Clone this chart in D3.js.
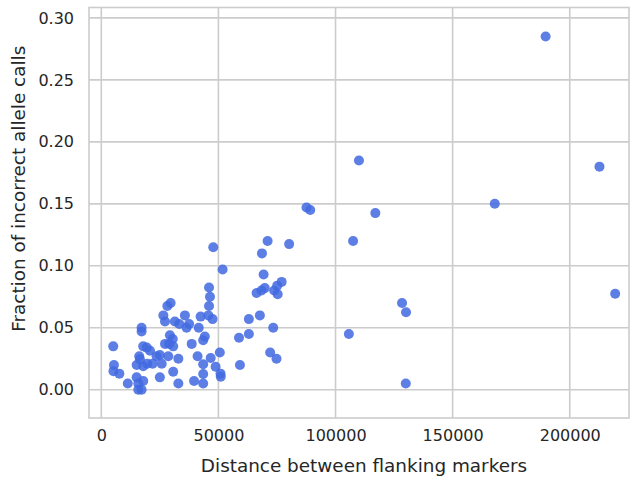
<!DOCTYPE html>
<html>
<head>
<meta charset="utf-8">
<script src="https://cdn.jsdelivr.net/npm/d3@7"></script>
<style>
  html, body { margin: 0; padding: 0; background: #fff; }
  svg text { font-family: "DejaVu Sans", sans-serif; fill: #262626; }
</style>
</head>
<body>
<svg id="chart" width="631" height="477"></svg>
<script>
// Distance between flanking markers (bp) for each locus
const distance = [
  5100, 5400, 5200, 7700, 11300, 15100, 15100, 15800, 15800, 17200,
  17900, 16200, 16500, 17200, 17200, 17900, 19400, 20800, 17900, 19650,
  21900, 23600, 25000, 25000, 25800, 28600, 26500, 27200, 28200, 29600,
  27200, 29300, 30500, 30700, 29000, 30700, 31400, 33300, 32900, 32900,
  35700, 37500, 36400, 38600, 39600, 41100, 41600, 42400, 43500, 44200,
  43500, 43500, 43500, 45700, 47500, 46000, 46400, 46000, 46700, 48800,
  50600, 50900, 51000, 47800, 51800, 58800, 59200, 63000, 63000, 67700,
  66300, 68400, 69800, 73800, 75300, 75100, 77000, 69300, 68600, 71000,
  80200, 73400, 72100, 74800, 87600, 89200, 110000, 117000, 107500, 105700,
  128400, 130100, 130000, 168000, 189700, 212700, 219400
];

// Fraction of incorrect allele calls for the same loci
const errorFraction = [
  0.035, 0.020, 0.015, 0.013, 0.005, 0.020, 0.010, 0.005, 0.000, 0.000,
  0.007, 0.027, 0.0245, 0.050, 0.047, 0.035, 0.034, 0.0315, 0.019, 0.021,
  0.021, 0.027, 0.028, 0.010, 0.021, 0.027, 0.060, 0.055, 0.0675, 0.070,
  0.037, 0.044, 0.041, 0.035, 0.037, 0.0145, 0.055, 0.053, 0.025, 0.005,
  0.060, 0.053, 0.050, 0.037, 0.007, 0.027, 0.050, 0.059, 0.040, 0.043,
  0.0205, 0.0127, 0.005, 0.060, 0.057, 0.0825, 0.075, 0.0675, 0.0256, 0.0186,
  0.030, 0.013, 0.0105, 0.115, 0.097, 0.042, 0.020, 0.057, 0.045, 0.060,
  0.078, 0.080, 0.082, 0.080, 0.077, 0.084, 0.087, 0.093, 0.110, 0.120,
  0.1175, 0.050, 0.030, 0.025, 0.147, 0.145, 0.185, 0.1425, 0.120, 0.045,
  0.070, 0.0625, 0.005, 0.150, 0.285, 0.180, 0.0775
];

const xTicks = [0, 50000, 100000, 150000, 200000];
const yTicks = [0.00, 0.05, 0.10, 0.15, 0.20, 0.25, 0.30];

const xLabel = "Distance between flanking markers";
const yLabel = "Fraction of incorrect allele calls";

const margin = { left: 89, right: 2, top: 7.5, bottom: 59 };
const width = 631, height = 477;
const svg = d3.select("#chart");

const x = d3.scaleLinear()
  .domain([-5250, 225300])
  .range([margin.left, width - margin.right]);
const y = d3.scaleLinear()
  .domain([-0.0228, 0.3084])
  .range([height - margin.bottom, margin.top]);

const gridColor = "#cccccc";

// vertical gridlines
svg.append("g")
  .selectAll("line")
  .data(xTicks)
  .join("line")
  .attr("x1", d => x(d)).attr("x2", d => x(d))
  .attr("y1", margin.top).attr("y2", height - margin.bottom)
  .attr("stroke", gridColor).attr("stroke-width", 1.6);

// horizontal gridlines
svg.append("g")
  .selectAll("line")
  .data(yTicks)
  .join("line")
  .attr("x1", margin.left).attr("x2", width - margin.right)
  .attr("y1", d => y(d)).attr("y2", d => y(d))
  .attr("stroke", gridColor).attr("stroke-width", 1.6);

// frame
svg.append("rect")
  .attr("x", margin.left).attr("y", margin.top)
  .attr("width", width - margin.right - margin.left)
  .attr("height", height - margin.bottom - margin.top)
  .attr("fill", "none").attr("stroke", gridColor).attr("stroke-width", 1.6);

// axes: tick labels only
const xAxis = svg.append("g")
  .attr("transform", `translate(0,${height - margin.bottom})`)
  .call(d3.axisBottom(x).tickValues(xTicks).tickSize(0).tickPadding(12).tickFormat(d3.format("d")));
xAxis.select(".domain").remove();
xAxis.selectAll("text").attr("font-size", 16).style("font-family", "DejaVu Sans").attr("fill", "#262626");

const yAxis = svg.append("g")
  .attr("transform", `translate(${margin.left},0)`)
  .call(d3.axisLeft(y).tickValues(yTicks).tickSize(0).tickPadding(15).tickFormat(d3.format(".2f")));
yAxis.select(".domain").remove();
yAxis.selectAll("text").attr("font-size", 16).style("font-family", "DejaVu Sans").attr("fill", "#262626");

// axis titles
svg.append("text")
  .attr("x", (margin.left + width - margin.right) / 2 + 5)
  .attr("y", 472)
  .attr("text-anchor", "middle")
  .attr("font-size", 18.4)
  .text(xLabel);

svg.append("text")
  .attr("transform", `translate(25,${(margin.top + height - margin.bottom) / 2 - 24}) rotate(-90)`)
  .attr("text-anchor", "middle")
  .attr("font-size", 18.4)
  .text(yLabel);

// points
const points = distance.map((d, i) => ({ x: d, y: errorFraction[i] }));
svg.append("g")
  .selectAll("circle")
  .data(points)
  .join("circle")
  .attr("cx", d => x(d.x))
  .attr("cy", d => y(d.y))
  .attr("r", 5)
  .attr("fill", "#4169e1")
  .attr("fill-opacity", 0.85);
</script>
</body>
</html>
